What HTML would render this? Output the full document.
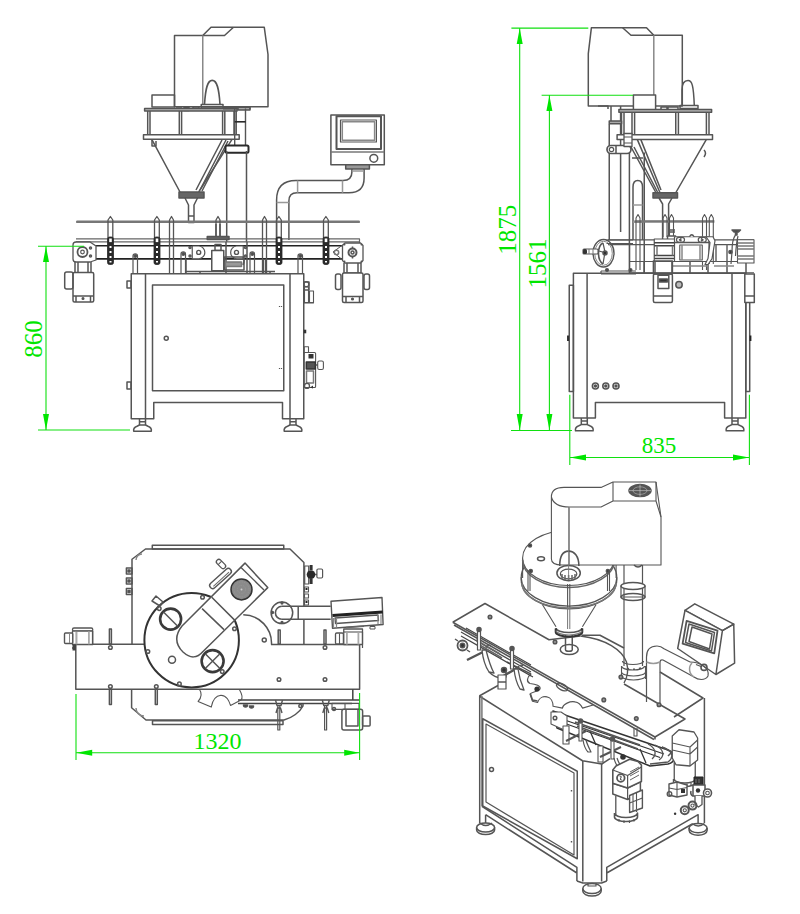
<!DOCTYPE html>
<html><head><meta charset="utf-8">
<style>
html,body{margin:0;padding:0;background:#fff;width:800px;height:914px;overflow:hidden}
svg{display:block}
.g{fill:#00e600;font-family:"Liberation Serif",serif}
</style></head>
<body>
<svg width="800" height="914" viewBox="0 0 800 914">
<rect width="800" height="914" fill="#fff"/>
<g fill="none" stroke="#555" stroke-width="1.5" stroke-linejoin="round">
<!-- ============ FRONT VIEW ============ -->
<g id="front">
<!-- motor box -->
<path d="M174.5,35.5 H202.75 L211,27.2 H264.25 L268,54.5 V106.7 H174.5 Z"/>
<path d="M202.75,35.5 H224.5 L233.5,27.2" />
<path d="M202.75,35.5 V104" stroke="#888"/>
<path d="M204.5,104.5 C205.5,88 207.5,80.4 212.2,80.4 C216.9,80.4 219,88 220,104.5" stroke-width="1.6"/>
<rect x="201.25" y="104.5" width="21.75" height="3.5"/>
<rect x="152" y="95" width="22.5" height="12"/>
<path d="M176,107 h6 M184,107.5 h5 v3 h-5z M193,107 h6 v3 h-6z M238,107 h12 v3 h-12z" />
<!-- hopper frame -->
<rect x="144.6" y="108.5" width="92.5" height="2.6" fill="#bbb"/>
<path d="M147.7,111 V134.7 M150,111 V134.7 M179.3,111 V134.7 M181.6,111 V134.7 M222.6,111 V134.7 M224.8,111 V134.7 M234,111 V134.7 M236.2,111 V134.7"/>
<rect x="143.5" y="134.7" width="95.7" height="4.6" fill="#fff"/>
<path d="M151.8,139.3 L180,192 M232,139.3 L198.7,192"/>
<path d="M222,140 L196,190 M226,140 L200,190 M228,141 L202,191" stroke="#555"/>
<path d="M152,140 v6 h4 v-5" />
<rect x="179" y="192" width="25" height="6" fill="#666"/>
<path d="M185,198 L188.5,205 V222.5 H194 V205 L197.5,198"/>
<path d="M188.5,216 H194"/>
<!-- column -->
<path d="M234.7,108.5 V145 M245.5,108.5 V145" stroke-width="1.4"/>
<path d="M234.7,121.8 h11" stroke="#2a2a2a" stroke-width="1.6"/>
<path d="M223,107.5 H250 V109 H223" stroke-width="1.2"/>
<rect x="225.5" y="145.5" width="23" height="7.2" rx="1.5" fill="#fff" stroke="#2a2a2a" stroke-width="2"/>
<path d="M226.7,151 V242 M246.5,151 V242"/>
<!-- touch panel -->
<rect x="330.9" y="114.9" width="53.4" height="49.9"/>
<rect x="336.5" y="116.2" width="44.5" height="32.8" stroke-width="2"/>
<rect x="340.5" y="120" width="35.9" height="22" stroke-width="1.2"/>
<rect x="342.3" y="121.8" width="32.3" height="18.4" stroke="#888"/>
<path d="M331,152 H384.3" stroke="#777"/>
<circle cx="373.8" cy="158.3" r="3.9" stroke-width="1.5"/>
<rect x="345.7" y="164.8" width="23.7" height="4.2" fill="#999"/>
<!-- pipe -->
<path d="M351.9,169 V172 Q351.9,180.5 343,180.5 H296 Q276.6,180.5 276.6,200 V240"/>
<path d="M364.1,169 V178 Q364.1,192.8 349,192.8 H297 Q288.9,192.8 288.9,201 V240"/>
<path d="M297.6,180.5 V192.8 M342.5,180.5 V192.8 M276.6,202.5 H288.9 M352,171 H364" stroke="#999"/>
<!-- top rail -->
<rect x="76" y="220.6" width="284" height="2.5" fill="#777" stroke="none" rx="1.2"/>
<!-- conveyor frame (drawn before pins) -->
<path d="M76,238.9 H359.5 V243 M76,241.85 H359.5" stroke="#666" stroke-width="1.2"/>
<path d="M93,245.8 H344 M93,258.9 H344" stroke-width="1.6" stroke="#222"/>
<!-- left end block -->
<path d="M76,242 H90 L96,246 V260 L90,262 H76 Q73,262 73,259 V245 Q73,242 76,242 Z" fill="#fff" stroke-width="1.3"/>
<circle cx="82.5" cy="252" r="5" stroke-width="1.8"/><circle cx="82.5" cy="252" r="1.8" stroke-width="1.2"/>
<circle cx="90.5" cy="248" r="1"/><circle cx="90.5" cy="256" r="1"/>
<!-- right end block -->
<path d="M344,244 L333,252 L344,261" stroke-width="1"/>
<circle cx="336.5" cy="252.5" r="2.2" stroke="#777"/>
<path d="M345,243 H360.5 L363,245.5 V260.5 L360.5,263 H345 L342.5,260.5 V245.5 Z" fill="#fff" stroke-width="1.3"/>
<circle cx="352.5" cy="252.5" r="4" stroke-width="2"/>
<circle cx="352.5" cy="252.5" r="1.5"/>
<path d="M352.5,246.5 v2 M352.5,256.5 v2" stroke-width="1.5"/>
<path d="M345,244 l-1,1 M361,244 l1,1 M345,262 l-1,-1 M361,262 l1,-1" stroke-width="2"/>
<!-- pins -->
<g id="pins" stroke-width="1.3">
<path d="M108,238 V220 L110.4,216.5 L112.8,220 V238 M154.5,238 V220 L156.9,216.5 L159.3,220 V238 M276.5,238 V220 L278.9,216.5 L281.3,220 V238 M323.5,238 V220 L325.9,216.5 L328.3,220 V238"/>
<path d="M169.5,273 V220 L171.5,216.5 L173.5,220 V273 M216,237 V220 L218,216.5 L220,220 V237 M262.5,273 V220 L264.5,216.5 L266.5,220 V273"/>
</g>
<!-- clamps -->
<g fill="#2a2a2a" stroke="#2a2a2a" stroke-width="0.8">
<rect x="107.5" y="237" width="6" height="27.5" rx="2"/>
<rect x="154" y="237" width="6" height="27.5" rx="2"/>
<rect x="276" y="237" width="6" height="27.5" rx="2"/>
<rect x="323" y="237" width="6" height="27.5" rx="2"/>
</g>
<g fill="#fff" stroke="none">
<rect x="109.2" y="238.5" width="2.6" height="3.6"/><rect x="109.5" y="246" width="2" height="2"/><rect x="109.5" y="251" width="2" height="2"/><rect x="109.5" y="256" width="2" height="2"/><rect x="109.5" y="261" width="2" height="1.5"/>
<rect x="155.7" y="238.5" width="2.6" height="3.6"/><rect x="156" y="246" width="2" height="2"/><rect x="156" y="251" width="2" height="2"/><rect x="156" y="256" width="2" height="2"/><rect x="156" y="261" width="2" height="1.5"/>
<rect x="277.7" y="238.5" width="2.6" height="3.6"/><rect x="278" y="246" width="2" height="2"/><rect x="278" y="251" width="2" height="2"/><rect x="278" y="256" width="2" height="2"/><rect x="278" y="261" width="2" height="1.5"/>
<rect x="324.7" y="238.5" width="2.6" height="3.6"/><rect x="325" y="246" width="2" height="2"/><rect x="325" y="251" width="2" height="2"/><rect x="325" y="256" width="2" height="2"/><rect x="325" y="261" width="2" height="1.5"/>
</g>
<!-- left motor -->
<path d="M75,262 V273 H91 V262 M78,262 V273 M88,262 V273" stroke="#555"/>
<rect x="73" y="272.5" width="20.7" height="29.5" rx="1.5" fill="#fff"/>
<rect x="64.7" y="272" width="8.3" height="17" rx="2"/>
<path d="M73,296 H93.7 M76,296 v6 M90.5,296 v6"/>
<circle cx="83" cy="298.5" r="0.8" fill="#333"/>
<!-- right motor -->
<path d="M344,263 V273 H361 V263 M347,263 V273 M358,263 V273" stroke="#555"/>
<rect x="342.5" y="273" width="20.5" height="29.5" rx="1.5" fill="#fff"/>
<rect x="335.5" y="274" width="5.5" height="15.5" rx="2"/>
<rect x="364" y="274" width="5.5" height="15.5" rx="2"/>
<path d="M342.5,296.5 H363 M346,296.5 v6 M359.5,296.5 v6"/>
<circle cx="352.5" cy="299" r="0.8" fill="#333"/>
<!-- posts between conveyor and chassis -->
<path d="M133,273 V256 a2.25,2.25 0 0 1 4.5,0 V273 M181,273 V254 a2.25,2.25 0 0 1 4.5,0 V273 M250,273 V254 a2.25,2.25 0 0 1 4.5,0 V273 M298,273 V256 a2.25,2.25 0 0 1 4.5,0 V273" stroke-width="1.2"/>
<circle cx="135.25" cy="256" r="1.2" fill="#333"/><circle cx="183.25" cy="254" r="1.2" fill="#333"/><circle cx="252.25" cy="254" r="1.2" fill="#333"/><circle cx="300.25" cy="256" r="1.2" fill="#333"/>
<path d="M186,259 V273 M247,259 V273 M226,242 V273 M247,242 V259" />
<!-- center mechanism -->
<rect x="207.25" y="236.5" width="21.75" height="3" fill="#666"/>
<path d="M216,224 V236.5 M220,224 V236.5" />
<path d="M192.25,246 H199 A6.4,6.4 0 0 1 199,258.75 H192.25 Z" fill="#fff" stroke-width="1.2"/>
<path d="M243.25,246 H236.5 A6.4,6.4 0 0 0 236.5,258.75 H243.25 Z" fill="#fff" stroke-width="1.2"/>
<circle cx="198.7" cy="252.4" r="2" stroke-width="1.4"/><circle cx="236.5" cy="252.4" r="2" stroke-width="1.4"/>
<circle cx="190" cy="247.5" r="1"/><circle cx="190" cy="256" r="1"/><circle cx="245.5" cy="247.5" r="1"/><circle cx="245.5" cy="256" r="1"/>
<rect x="215" y="244.5" width="6" height="6"/>
<rect x="211.75" y="250.5" width="12" height="20.25" fill="#fff"/>
<rect x="224.5" y="257" width="19.5" height="13"/>
<rect x="225.5" y="262" width="16" height="4.5" fill="#999" stroke="#777"/>
<path d="M243,257 q2,4 0,8" stroke="#555"/>
<path d="M185,271.5 H275 M200,271.5 v2.2 M270,271.5 v2.2" stroke="#555"/>
<path d="M263.5,259 V273 M265.75,259 V273" />
<!-- chassis -->
<path d="M131.25,273.75 H303.75 V418.75 H282.5 V402.5 H153.75 V418.75 H131.25 Z"/>
<path d="M145.5,273.75 V418.75 M290,273.75 V418.75"/>
<rect x="152.5" y="285" width="131.25" height="105.75"/>
<circle cx="166.25" cy="338.25" r="2"/>
<path d="M279.5,306 v1 M281.5,306 v1 M279.5,368 v1 M281.5,368 v1" stroke-width="1.2"/>
<path d="M127,281 h4 v7 h-4z M127,382 h4 v7 h-4z M304,282 h5 v8 h-5z"/>
<!-- feet -->
<path d="M139.5,418.75 V425.0 M145.5,418.75 V425.0 M139.5,421.75 h6" /><path d="M133.7,431.2 Q133.0,427.7 137.0,426.2 L139.5,425.0 H145.5 L148.0,426.2 Q152.0,427.7 151.3,431.2 Z" fill="#fff"/>
<path d="M290,418.75 V425.0 M296,418.75 V425.0 M290,421.75 h6" /><path d="M284.2,431.2 Q283.5,427.7 287.5,426.2 L290,425.0 H296 L298.5,426.2 Q302.5,427.7 301.8,431.2 Z" fill="#fff"/>
<!-- right accessories (air regulator) -->
<circle cx="306.3" cy="284.2" r="2.5" stroke-width="1.3"/>
<path d="M304.5,287 h4 v15.7 h-4z M309.5,291 h4 v11.7 h-4z" stroke-width="1.1"/>
<path d="M303.75,302.7 h10" stroke-width="1.3"/>
<rect x="303.75" y="329.7" width="2.5" height="3.6" fill="#333" stroke="none"/>
<rect x="304.2" y="346.8" width="4.3" height="5.7" stroke-width="1.1"/>
<rect x="304.2" y="352.5" width="11.4" height="35" rx="1" stroke-width="1.1"/>
<rect x="308.5" y="354" width="5" height="4.5" fill="#333" stroke="none"/>
<path d="M306.3,362 h9 v7 h-9z" fill="#555" stroke="#333"/>
<rect x="317.7" y="361" width="5.7" height="8.5" rx="1.5" stroke-width="1.1"/>
<path d="M315.6,365 h2.1" />
<path d="M306.5,371 h7 v12 h-7z" stroke="#777"/>
<circle cx="307" cy="385.9" r="2.5" stroke-width="1.3"/>
<path d="M310,387.5 l3,-2 v3z" fill="#333" stroke="none"/>
</g>
<!-- ============ SIDE VIEW ============ -->
<g id="side">
<!-- motor box -->
<path d="M591.4,27.7 H646.5 L653.8,35.3 H682.3 V106 H588.3 V53.6 Z"/>
<path d="M622.6,27.7 L631,35.3 H653.8"/>
<path d="M653.8,35.3 V95" stroke="#888"/>
<path d="M682,105 V90 C682,83 684,80.6 688,80.6 C692,80.6 693.5,85 694.3,105.6" stroke-width="1.5"/>
<path d="M680,105.6 h18 v3 h-18z"/>
<rect x="633.4" y="95" width="22.2" height="14.7" fill="#fff"/>
<path d="M598,106 h10 v3 M661,107 h6 v3 h-6z M668,107 h10 v3 h-10z"/>
<!-- column -->
<path d="M611,106 V121 M620.6,106 V121"/>
<rect x="609.25" y="121" width="12.3" height="2.8" fill="#aaa"/>
<path d="M609.25,124 V240 M620.6,124 V232"/>
<path d="M629.4,152.5 V273 M644.25,152.5 V273 M632,158 h11"/>
<path d="M633,240 V187 Q633,180.5 637.75,180.5 Q642.5,180.5 642.5,187 V240" stroke="#555"/>
<path d="M633,205 h9.5 M633,222 h9.5" stroke="#999"/>
<rect x="607" y="145.5" width="24" height="8" rx="4" fill="#fff" stroke-width="1.7"/>
<circle cx="611.5" cy="149.5" r="2.2" stroke-width="1.2"/>
<path d="M616,146 V153" stroke="#555"/>

<!-- hopper -->
<rect x="618.9" y="109.6" width="92.7" height="2.65" fill="#bbb"/>
<path d="M621.5,112 V134.6 M624,112 V134.6 M632,112 V134.6 M634.6,112 V134.6 M675.75,112 V134.6 M678.4,112 V134.6 M706.4,112 V134.6 M709,112 V134.6"/>
<rect x="617.1" y="134.65" width="95.4" height="4.75" fill="#fff"/>
<rect x="624" y="133.5" width="8" height="13" fill="#fff" stroke-width="1.3"/>
<path d="M624,137 h8 M624,143 h8" stroke-width="1"/>
<path d="M637.25,139.4 L660,192.75 M706.4,139.4 L675.75,192.75"/>
<path d="M631,147 L655.6,192 M634,147 L657.5,192 M640.75,139.4 L661,190" stroke="#555"/>
<path d="M704,150 q3,3 0,7" />
<rect x="653" y="192.75" width="24.5" height="5.25" fill="#666"/>
<path d="M659,198 L662.6,204 V240 M672,198 L668.6,204 V240"/>
<!-- rail + posts -->
<rect x="634.4" y="220.2" width="80" height="2.5" fill="#777" stroke="none"/>
<path d="M636,270 V218 L638,214.5 L640,218 V270 M663,237 V218 L665,214.5 L667,218 V237 M669.5,237 V218 L671.5,214.5 L673.5,218 V237 M702.5,270 V218 L704.5,214.5 L706.5,218 V270 M709.3,264 V218 L711.3,214.5 L713.3,218 V264" stroke-width="1.1"/>
<path d="M668,230 h7 M668,232 h7" stroke-width="1.3"/>
<path d="M667.5,236 h8 v4 h-8z" fill="#fff"/>
<!-- belt -->
<path d="M608,239.9 H754 M608,244.6 H754" stroke-width="1.2"/>
<path d="M629.6,261.5 H754 M629.6,272.75 H754 M629.6,244.6 V273 M644,261.5 V273" stroke-width="1.1"/>
<path d="M655,261.5 V273 M672,261.5 V273 M690,261.5 V273 M708,261.5 V273 M727,261.5 V273 M746,261.5 V273" stroke="#555"/>
<path d="M672,266 h36 M714,266 h20" stroke="#888"/>
<rect x="654.25" y="239" width="21" height="22.5" fill="#fff" stroke-width="1.2"/>
<path d="M654.25,242.7 h21 M654.25,245.7 h21 M654.25,255.5 h21 M654.25,258.5 h21" stroke="#444"/>
<path d="M657,245.7 v9.8 M672.5,245.7 v9.8" stroke="#777"/>
<rect x="674.5" y="236.75" width="34.5" height="24.75" fill="#fff" stroke-width="1.2"/>
<path d="M674.5,242.5 H709" />
<rect x="679.75" y="245" width="22.5" height="15" stroke-width="1.1"/>
<path d="M682,245 v15 M700,245 v15" stroke="#888"/>
<rect x="676.5" y="237.3" width="8" height="5" rx="2.5" stroke-width="1.2"/>
<rect x="698.25" y="237.3" width="8" height="5" rx="2.5" stroke-width="1.2"/>
<path d="M681.5,238.5 l-2,1.3 l2,1.3 M701,238.5 l2,1.3 l-2,1.3" />
<path d="M689.5,236.75 q2.25,-4 4.5,0" fill="#fff"/>
<path d="M706,236.75 h7 l2,4 l-3,18 l-4,5.75 h-3 l3,-6 l2,-16 z" fill="#fff" stroke-width="1.2"/>
<rect x="737.5" y="239.75" width="16.5" height="23.25" fill="#fff" stroke-width="1.1"/>
<path d="M737.5,243 h16.5 M737.5,246 h16.5 M737.5,249 h16.5 M737.5,256 h16.5 M737.5,259 h16.5" stroke="#777"/>
<path d="M732,230 h8.5 l-2,2 h-1.5 v3 h-1.5 v-3 h-1.5 z" fill="#444"/>
<path d="M735.5,235 C733,238 732,246 732,252 L731,264 M738,236 C737,240 736,248 735.5,256" stroke-width="1.2"/>
<path d="M716,244.6 v16.9 M727,244.6 v16.9" stroke="#666"/>
<circle cx="730.5" cy="252" r="1.6" fill="#333"/>
<!-- handwheel -->
<ellipse cx="603.5" cy="253.25" rx="10.5" ry="13.75" stroke-width="1.4"/>
<ellipse cx="603.5" cy="253.25" rx="8.8" ry="12" stroke="#888" stroke-width="1"/>
<path d="M603,243 C597,246 597,260 603,264" stroke-width="1.6"/>
<path d="M603,243 L605,252 L603,264 M599,251 L606,253" stroke-width="1.2"/>
<circle cx="605" cy="253" r="2" fill="#333"/>
<rect x="583" y="249" width="15" height="5" rx="1" fill="#fff" stroke-width="1.1"/>
<rect x="583" y="249" width="4" height="5" rx="1.5" fill="#333" stroke="none"/>
<path d="M589,249 v5 M593,249 v5" stroke="#777" stroke-width="1"/>
<path d="M601,271 H636 M601,274 H636 M601,271 V274" stroke-width="1.2"/>
<circle cx="607" cy="270" r="1.3" fill="#333"/><circle cx="630.5" cy="270" r="1.3" fill="#333"/>
<path d="M606.5,240 H633 M606.5,243.5 H633" stroke-width="1.1"/>
<!-- front motor -->
<rect x="653.4" y="261" width="19" height="13"/>
<rect x="653.4" y="274" width="19" height="28.6" rx="1.5"/>
<rect x="658" y="275.3" width="10.8" height="13.1"/>
<rect x="659.5" y="279" width="7.8" height="3" fill="#333"/>
<path d="M653.4,296 H672.4"/>
<circle cx="679" cy="284.8" r="3.2" fill="#bbb"/>
<!-- chassis -->
<path d="M573.4,273.2 H745.8 V418.1 H724.6 V402.5 H595.4 V418.1 H573.4 Z"/>
<path d="M587.1,273.2 V418.1 M732,273.2 V418.1"/>
<rect x="569.25" y="285.3" width="4.15" height="106.2"/>
<rect x="745.8" y="285.3" width="3.9" height="106.2"/>
<path d="M568,335.5 v5.5 M750.5,335.5 v5.5" stroke-width="1.8" stroke="#222"/>
<rect x="744.8" y="274" width="9.5" height="28.6" fill="#fff"/>
<path d="M744.8,296 h9.5"/>
<circle cx="595.4" cy="386" r="3" stroke-width="1.6"/><circle cx="595.4" cy="386" r="1" fill="#333"/>
<circle cx="605.8" cy="386" r="3" stroke-width="1.6"/><circle cx="605.8" cy="386" r="1" fill="#333"/>
<circle cx="616" cy="386" r="3" stroke-width="1.6"/><circle cx="616" cy="386" r="1" fill="#333"/>
<path d="M581.3,418.1 V424.6 M587.3,418.1 V424.6 M581.3,421.1 h6" /><path d="M575.5,430.8 Q574.8,427.3 578.8,425.8 L581.3,424.6 H587.3 L589.8,425.8 Q593.8,427.3 593.0999999999999,430.8 Z" fill="#fff"/>
<path d="M732,418.1 V424.6 M738,418.1 V424.6 M732,421.1 h6" /><path d="M726.2,430.8 Q725.5,427.3 729.5,425.8 L732,424.6 H738 L740.5,425.8 Q744.5,427.3 743.8,430.8 Z" fill="#fff"/>
</g>
<!-- ============ TOP VIEW ============ -->
<g id="top">
<!-- body -->
<rect x="152.3" y="545.3" width="131.45" height="3.7"/>
<path d="M132,644.3 V559.25 L145.5,549 H290 L303.9,562.5 V606.3 M303.9,619.3 V644.5"/>
<path d="M131.6,689.3 V707.8 L146,720 H284 C292,718 300,712 303,706 V703.4"/>
<rect x="152.5" y="720.75" width="130.5" height="3.75"/>
<path d="M136,560 a6,6 0 0 1 6,-6" stroke="#888"/>
<path d="M126.4,568 h5.6 v6 h-5.6z M126.4,578 h5.6 v6 h-5.6z M126.4,588.5 h5.6 v6 h-5.6z"/>
<path d="M128,570 h2 v2 h-2z M128,580 h2 v2 h-2z M128,590.5 h2 v2 h-2z" fill="#444"/>
<path d="M136,708 a8,8 0 0 0 8,8" stroke="#888"/>
<!-- conveyor -->
<path d="M75.8,644.3 H144.6 M75.8,644.3 V689.3 H359.6 V644.5 H271 M75.8,648 H72"/>
<path d="M238,700 H359.4 M238,703.4 H352 M352.8,689.3 V700" stroke="#444"/>
<path d="M243.5,705 a2,2 0 0 0 4,0z M249.5,706 a2,2 0 0 0 4,0z" fill="#333"/><circle cx="300.3" cy="706" r="1.5"/><circle cx="334" cy="709" r="1.5"/>
<!-- left motor -->
<rect x="72.5" y="628" width="20.25" height="3.2" rx="1.5" fill="#fff" stroke-width="1.3"/>
<rect x="72.5" y="631" width="20.25" height="13.5" fill="#fff" stroke-width="1.3"/>
<path d="M76.5,631 V644.5 M92.5,631 V644.5" stroke-width="1.2"/>
<rect x="75.5" y="631.5" width="1.8" height="12.8" fill="#aaa" stroke="none"/>
<rect x="88" y="631.5" width="1.8" height="12.8" fill="#aaa" stroke="none"/>
<rect x="64.5" y="633" width="8.25" height="10.5" rx="1" fill="#fff" stroke-width="1.4"/>
<path d="M69.5,633.5 V643" stroke="#888" stroke-width="1"/>
<rect x="72.5" y="644.5" width="3.5" height="6" fill="#444" stroke="none"/>
<!-- pins top -->
<path d="M109.4,629 h2 v15 h-2z M278.2,630 h2 v14 h-2z M324,630 h2 v14 h-2z"/>
<circle cx="110.4" cy="647.5" r="1.8"/><circle cx="325" cy="647.5" r="1.8"/>
<circle cx="279" cy="679.5" r="1.8"/><circle cx="325" cy="679.5" r="1.8"/>
<path d="M109.4,689.5 v15 h2 v-15 M155.3,689.5 v15 h2 v-15"/>
<circle cx="110.4" cy="686.5" r="1.8"/><circle cx="156.3" cy="686.5" r="1.8"/>
<!-- right clamps -->
<path d="M277.8,706 v24 h2 v-24 M324.6,706 v24 h2 v-24" stroke-width="1.2"/>
<path d="M275.5,700 l1.5,5.5 h4 l1.5,-5.5 M276,713 l1.5,-5 h3 l1.5,5 M322.3,700 l1.5,5.5 h4 l1.5,-5.5 M322.8,713 l1.5,-5 h3 l1.5,5" stroke-width="1.4"/>

<!-- gear sector -->
<path d="M199.4,689.2 C202,693 202,697 198.1,701.4 L211.25,707.1 C212,703 214,696 220.9,695.3 C227,695.5 229,701 230.5,705.4 L241,700.1 C243,698 242,694 239.25,689.2" stroke-width="1.1"/>
<!-- big circle -->
<circle cx="191.65" cy="640.15" r="47.25" stroke-width="2" stroke="#333"/>
<circle cx="170.6" cy="619.1" r="10.5" stroke-width="2.6" stroke="#3a3a3a"/>
<path d="M163.5,612 L177.7,626.2"/>
<circle cx="212.6" cy="661.1" r="11" stroke-width="2.6" stroke="#3a3a3a"/>
<path d="M205.5,654 L219.7,668.2 M219.7,654 L205.5,668.2"/>
<circle cx="172" cy="659.7" r="3.5"/>
<circle cx="202.5" cy="597.25" r="1.8"/><circle cx="234.5" cy="628.75" r="1.8"/><circle cx="222.25" cy="671.6" r="1.8"/><circle cx="179.4" cy="683.9" r="1.8"/><circle cx="147.9" cy="651.5" r="1.8"/><circle cx="159.25" cy="608.6" r="1.8"/>
<path d="M152,601 l4,-5 l7,6 l-3,4z" />
<!-- arm -->
<path d="M245,563.1 L182,626 Q171,640 183,652 Q194,662 203,651.5 L267.75,587.6 Z" fill="#fff"/>
<path d="M202.1,608.6 L224,629.6 M211.75,597.25 L235.4,620.9"/>

<circle cx="241.5" cy="589.4" r="10.5" fill="#8a8a8a" stroke="#333"/>
<circle cx="241.5" cy="589.4" r="7.5" fill="none" stroke="#999" stroke-width="0.7" stroke-dasharray="1.5 1"/>
<circle cx="241.5" cy="589.4" r="4" fill="none" stroke="#999" stroke-width="0.7" stroke-dasharray="1.5 1"/>
<circle cx="241.5" cy="589.4" r="1" fill="#ccc" stroke="none"/>
<g transform="rotate(-42 220.5 578.5)"><rect x="207" y="575.5" width="27" height="6" rx="3" fill="#fff" stroke-width="1.4"/><path d="M210,579.5 H231" stroke="#666" stroke-width="1"/></g>
<g transform="rotate(45 221 564)"><rect x="215.5" y="561.5" width="11" height="5" rx="2.5" fill="#fff" stroke-width="1.3"/><path d="M219.5,561.5 v5" stroke-width="1"/></g>
<path d="M241,567.5 L264,590" stroke-width="1.3"/>
<!-- sector arc -->
<path d="M243.25,614.75 A28.5,28.5 0 0 1 271.5,644.5"/>
<circle cx="264.25" cy="640.1" r="2"/>
<!-- right regulator -->
<rect x="304.7" y="566" width="4" height="18" stroke-width="1.2"/>
<circle cx="311" cy="574.6" r="4.3" fill="#2a2a2a" stroke="none"/>
<rect x="309.6" y="565" width="3" height="5" fill="#333" stroke="none"/>
<rect x="309.6" y="579" width="3" height="5" fill="#333" stroke="none"/>
<rect x="316.9" y="569" width="5.7" height="9" rx="1.2" stroke-width="1.2"/>
<path d="M315,574.6 h2" stroke-width="1.5"/>
<path d="M304.5,587 h4 v5 h-4z M304.5,594 h4 v4 h-4z M304.5,600 h4 v5 h-4z" stroke-width="1.1"/>
<path d="M305.5,589 h2 M305.5,602 h2" stroke="#222" stroke-width="2"/>
<!-- pipe + panel -->
<circle cx="281.9" cy="612.8" r="10.8"/>
<path d="M281.9,606.3 a6.5,6.5 0 0 0 0,13" stroke-width="1.6"/>
<circle cx="282" cy="603" r="0.9" fill="#333"/><circle cx="282" cy="622.5" r="0.9" fill="#333"/><circle cx="272.5" cy="612.5" r="0.9" fill="#333"/>
<path d="M282,606.3 H330.7 M282,619.3 H330.7 M298.2,606.3 V619.3" />
<path d="M331,601.25 L382,597.5 L383.1,624.5 L332.5,628.25 Z" fill="#fff" stroke-width="1.4"/>
<path d="M332.5,615.5 L382.75,612" stroke="#222" stroke-width="3.2"/>
<path d="M335,618 L378,615 L378.5,620.5 L335.5,623.5 Z" stroke-width="1.3"/>
<path d="M333.5,618 v9.5 M336.5,618 v9.5 M378,615 v9 M381,614.5 v9.5" stroke="#888" stroke-width="1.2"/>
<path d="M346,627.5 l18,-1.3" stroke="#666" stroke-width="1.5"/>
<path d="M370,626.5 h5 v2.5 h-5z" stroke-width="1"/>
<!-- right conveyor motor -->
<rect x="343.75" y="629" width="18.75" height="15.5" fill="#fff" stroke-width="1.3"/>
<path d="M343.75,632 h18.75" stroke-width="1.1"/>
<rect x="346" y="632.5" width="1.8" height="12" fill="#aaa" stroke="none"/>
<rect x="357.5" y="632.5" width="1.8" height="12" fill="#aaa" stroke="none"/>
<rect x="335.5" y="633" width="7.9" height="11" rx="1.2" fill="#fff" stroke-width="1.3"/>
<path d="M339.5,633.5 V644" stroke-width="1.1"/>
<path d="M362.5,632 V648" stroke-width="1.2"/>
<rect x="341.9" y="709.3" width="20.7" height="20.7" rx="2"/>
<path d="M346,709 V726 H358 V709" stroke="#555"/>
<rect x="362.6" y="716" width="7.5" height="10" rx="1"/>
<path d="M332,703.4 h27 v6 h-27z M345,703.4 v6" stroke-width="1.1"/>
</g>
<!-- ============ ISO VIEW ============ -->
<g id="iso">
<!-- chassis -->
<path d="M479.25,696 L498,685.5 M479.25,696 L582.5,760.75 L601.75,764 L610,758.6 M674,717 L703,698 L660,672" />
<path d="M479.7,696 V823 M582.8,761 V881.5 M601.6,764 V881.5 M704.4,698 V823"/>
<path d="M481.9,806.25 L576.9,867.3 V881 M485.6,814.7 V826 M485.6,814.7 L576.9,873 M606.75,881 V867.3 L698.1,814.7 V826 M606.75,873 L692.2,824" />
<path d="M576.9,881 L582.8,883 H601.6 L606.75,881" />
<path d="M481.9,696 V806.25" stroke="#777"/>
<path d="M482.75,718.75 L577.25,771.25 V858.75 L482.75,806 Z"/>
<path d="M486,724 L574,773 V855 L486,802 Z" stroke-width="1.2"/>
<circle cx="491.5" cy="769.5" r="2" stroke-width="1.5"/>
<path d="M571.5,790 v1.5 M571.5,841 v1.5" stroke-width="1.4"/>
<ellipse cx="485.6" cy="827.5" rx="9" ry="4.6" fill="#fff"/>
<path d="M476.6,827.5 v2.5 a9,4.6 0 0 0 18,0 v-2.5" />
<path d="M479.7,823 q6,5 12.2,0" />
<ellipse cx="592" cy="888.5" rx="9.2" ry="5" fill="#fff"/>
<path d="M582.8,888.5 v2.5 a9.2,5 0 0 0 18.4,0 v-2.5" />
<path d="M588,883 v3 h8 v-3" stroke-width="1.2"/>
<ellipse cx="698.1" cy="828.1" rx="9" ry="4.6" fill="#fff"/>
<path d="M689.1,828.1 v2.5 a9,4.6 0 0 0 18,0 v-2.5" />
<path d="M692.2,823.5 q6,5 12.2,0" />
<!-- column -->
<path d="M624,564 V666 M642.5,564 V666 M621,586 h24 v11 h-24z" stroke-width="1.2"/>
<ellipse cx="633" cy="586" rx="12" ry="3.5" fill="#fff"/>
<ellipse cx="633" cy="597" rx="12" ry="3.5"/>
<path d="M621.5,666 a11.5,4 0 0 0 23,0 M622.5,661 a10.5,3.5 0 0 0 21,0" stroke-width="1.2"/>
<path d="M621.5,666 V679 M645.5,666 V679 M621.5,672 a12,4 0 0 0 24,0 M621.5,676 a12,4 0 0 0 24,0" stroke-width="1.1"/>
<path d="M627,668.5 l2,0.6 M633,669.3 h2 M639,668.6 l2,-0.6" stroke-width="1.6"/>
<!-- pipe -->
<path d="M646.5,702 V657 Q646.5,646 657,646 Q661,646 664,648.7 L690,662" stroke-width="1.2"/>
<path d="M660,705 V663 Q660,659 663,660 L694,677" stroke-width="1.2"/>
<path d="M646.5,662 q6.75,3 13.5,0" stroke="#999"/>
<path d="M690,662 C700,662 710,668 708,676 C705,681 698,680 694,677" stroke-width="1.2"/>
<path d="M692,663 C688,667 689,674 694,677" stroke="#999"/>
<!-- touch panel -->
<path d="M685,610.3 L694.75,603.8 L733.75,624.1 L722.4,630.6 Z" fill="#fff"/>
<path d="M685,610.3 L722.4,630.6 L715.9,674.5 L677.7,648.5 Z" fill="#fff"/>
<path d="M722.4,630.6 L733.75,624.1 L734.6,663.1 L715.9,674.5"/>
<path d="M686.6,620.9 L717.5,630.6 L714.25,653.4 L682.6,643.6 Z" stroke-width="1.8"/>
<path d="M689,624 L714.5,632.5 L711.5,651 L685.5,642.5 Z"/>
<path d="M692,627 L712,634 L709.5,649 L689,641.5 Z"/>
<circle cx="704" cy="667.4" r="3" stroke-width="1.6"/>
<path d="M696,664.5 l5,2" stroke-width="1.3"/>
<!-- conveyor plate -->
<path d="M452.75,622.25 L485,603.5 L549,639.75 L580.5,636 M452.75,622.25 L655,737 L685,719 L624,684" fill="none"/>
<path d="M454,625 L654,739.5 M655,737 V739.5" />
<path d="M580.5,636 C606,639 622,650 626.5,662 C629,671 627,678 624,683" stroke-width="1.4"/>
<path d="M582,635.25 H600 L624,648" />
<circle cx="490" cy="617" r="1.8" fill="#999"/><circle cx="555" cy="642" r="1.8" fill="#999"/><circle cx="620.9" cy="677.1" r="1.8" fill="#999"/>
<circle cx="603.8" cy="699.9" r="1.8" fill="#999"/><circle cx="636.3" cy="718.6" r="1.8" fill="#999"/><circle cx="659" cy="704.75" r="1.8" fill="#999"/>
<!-- nozzle through table -->
<ellipse cx="569.25" cy="649.5" rx="9" ry="5"/>
<path d="M565.5,635 V650 M572.25,635 V650 M565.5,650 a3.4,1.5 0 0 0 6.75,0"/>
<!-- gear edge on table -->
<path d="M531.25,673.75 C527,677 526,682 530,683.5 C536,684 541,686 540,689 C538,692 531,692 530,694 L532.5,701.25 L537.5,702.5 C539,698 543,696 547,696.9 C551,697.5 553,702 553.1,706.25 L562.5,708.1 C563,704 570,701 575,701.9 C579,702.5 581,705 582.5,708.1 L593.1,705" stroke-width="1.2"/>
<circle cx="537" cy="689" r="2.6" fill="#333" stroke="none"/>
<path d="M530.5,694 l2,6 l5,1" stroke-width="1.5"/>
<path d="M507,662 L531,674" stroke="#555"/>
<ellipse cx="562" cy="687" rx="6" ry="3" transform="rotate(28 562 687)"/>
<!-- left conveyor group (under plate) -->
<path d="M461,632 L531,672 M461,636 L531,676 M470,641 L533,677 M466,628 L531,665" stroke="#444" stroke-width="1.1"/>
<path d="M476,640 L500,654 M478,644 L502,658" stroke="#666"/>
<circle cx="462.5" cy="645.5" r="5" stroke-width="1.8" fill="#fff"/>
<circle cx="462.5" cy="645.5" r="2.2" fill="#333"/>
<path d="M458,641 l-3,-2 M467,650 l3,2" stroke-width="1.5"/>
<path d="M477.5,630 h3 v20 h-3z M510.5,649 h3 v20 h-3z" fill="#fff" stroke-width="1.2"/>
<circle cx="479" cy="629.5" r="2" fill="#555"/><circle cx="512" cy="648.5" r="2" fill="#555"/>
<path d="M467,660 L487,650 M500,678 L519,667" stroke-width="2.4"/>
<path d="M482,650 C483,660 485,666 489,672 L494,673 C490,666 488,658 486,650 Z" stroke-width="1.3" fill="#fff"/>
<path d="M514,669 C515,678 517,684 520,689 L524,690 C521,683 519,676 518,669 Z" stroke-width="1.3" fill="#fff"/>
<path d="M489,672 C494,677 500,679 506,677 L506,672" stroke-width="1.4"/>
<path d="M498,675 h8 v14 h-8z" fill="#fff" stroke-width="1.2"/>
<path d="M498,682 h8" />
<circle cx="504" cy="670" r="2.5" fill="#333"/>
<path d="M486,648 a3,3 0 0 1 5,-2 M518,668 a3,3 0 0 1 5,-2" stroke-width="1.2"/>
<!-- right conveyor group (belt) -->
<path d="M553,711 L668,750 C676,753 676,762 668,764 L650,766 L557,728 Z" fill="#fff" stroke="#333" stroke-width="1.5"/>
<path d="M553,716 L664,754 M561,722 L660,757.5" stroke="#333" stroke-width="1.2"/>
<path d="M590,731 L596,745 M640,749 L646,763" stroke="#333" stroke-width="1.3"/>
<path d="M575,722 L640,745 M577,726 L638,749" stroke="#555"/>
<path d="M662,747 C672,750 675,757 668,762 L650,764 M655,745 C664,749 665,756 659,760 M648,744 C656,748 657,755 652,759" stroke-width="1.3"/>
<path d="M662,747 L672,752 M668,756 L672,752" />
<path d="M551,712 h10 l6,4 v14 l-5,-1 l-11,-5 z" fill="#fff" stroke-width="1.1"/>
<circle cx="555" cy="718" r="1.8"/>
<path d="M563,726 h6 v18 h-6z M598,746 h5 v16 h-5z" fill="#fff" stroke-width="1.1"/>
<path d="M566,741 L586,731 M600,757 L621,747" stroke-width="2"/>
<path d="M579,721 h3 v20 h-3z M611,739 h3 v20 h-3z" fill="#fff" stroke-width="1.1"/>
<circle cx="580.5" cy="721" r="2" fill="#555"/><circle cx="612.5" cy="739" r="2" fill="#555"/>
<path d="M583,740 C584,746 586,750 588,752 L591,752 C589,748 587,744 586,740 M614,758 C615,763 617,766 619,768 L622,768 C620,765 618,761 617,758" stroke-width="1.2"/>
<path d="M634,728 v8 h3 v-8" stroke-width="1.1"/>
<!-- front motor -->
<path d="M615.8,796 V815 M636.5,796 V812" stroke-width="1.3"/>
<path d="M614.5,813 V817 a11.5,4.5 0 0 0 23,0 V813 a11.5,4.5 0 0 1 -23,0" fill="#fff" stroke-width="1.6"/>
<path d="M619,819 v2.5 M624,820.5 v2.5 M629.5,820.5 v2.5 M634,819 v2.5" stroke-width="1.2"/>
<path d="M612.8,783.3 V794 L627.6,799.5 L640.4,792 V781.5 L627.6,788 Z" fill="#fff" stroke-width="1.5"/>
<path d="M627.6,788 V799.5" stroke-width="1.2"/>
<path d="M612.8,770 L616,766 L629.6,759.2 L638,761.5 L641.4,765 V781.5 L627.6,788 L612.8,783.3 Z" fill="#fff" stroke-width="1.6"/>
<path d="M612.8,770 L627.6,775.5 L641.4,767 M627.6,775.5 V788" stroke-width="1.2"/>
<path d="M630,772 L639,767 M630,776 L639,771 M630,780 L639,775" stroke="#666" stroke-width="1"/>
<circle cx="620.8" cy="778" r="3.8" stroke-width="1.8"/>
<path d="M619.5,776 q2.5,0 1.3,2 q-1.2,2 1.3,2" stroke-width="1.1"/>
<circle cx="623" cy="757" r="2.8" fill="#333" stroke="none"/>
<path d="M629.6,795.5 L642.4,790 V808 L629.6,812.5 Z" fill="#fff" stroke-width="1.4"/>
<path d="M633,794 V811 M636.5,792.5 V809.5 M629.6,803 L642.4,798" stroke-width="1.1"/>
<!-- right motor -->
<path d="M672.25,736 L679,729.75 L694,732 L697.6,738 V760 L690,766 L676,764.75 L672.25,758 Z" fill="#fff" stroke-width="1.3"/>
<path d="M672.25,743 L690,747 L697.6,740 M690,747 V766 M672.25,750 L690,754 L697.6,747" stroke-width="1.1"/>
<path d="M674.25,762 V779 M695.25,762 V779" stroke-width="1.3"/>
<path d="M674.25,779 a10.5,4 0 0 0 21,0 M673.5,782 a11,4.5 0 0 0 22.5,0 M673.5,779 v3 M696,779 v3" stroke-width="1.4"/>
<path d="M678,782 v3.5 M682,783.5 v3.5 M687,783.5 v3.5 M691,782.5 v3.5" stroke-width="1.2"/>
<!-- valve & regulator -->
<path d="M669,784 l8,-2 l10,3 v10 l-10,2 l-8,-2 z" fill="#fff" stroke-width="1.4"/>
<path d="M677,782 v15 M669,788 l8,1.5 l10,-2" stroke-width="1.1"/>
<circle cx="669.5" cy="794" r="2.3" stroke-width="1.3"/>
<path d="M681,789 h4 v4 h-4z" fill="#333" stroke="none"/>
<path d="M694,777 h9 v8 h-9z" fill="#333" stroke="#222" stroke-width="1"/>
<path d="M696,779 v4 M699,779 v4" stroke="#888" stroke-width="0.8"/>
<path d="M693,785 h12 v11 h-12z" fill="#fff" stroke-width="1.5"/>
<circle cx="698" cy="790.5" r="2.2" fill="#333" stroke="none"/>
<circle cx="707.5" cy="793" r="4" fill="#fff" stroke-width="1.6"/>
<circle cx="707.5" cy="793" r="1.8" stroke-width="1.1"/>
<path d="M691,791 a2.5,3.5 0 0 0 2,5" stroke-width="1.6"/>
<path d="M695,796 v8.5 l3.5,2.5 l3.5,-2.5 v-8.5" fill="#fff" stroke-width="1.3"/>
<circle cx="684.75" cy="810.3" r="4" stroke-width="2"/><circle cx="684.75" cy="810.3" r="1.6" stroke-width="1.1"/>
<circle cx="692.5" cy="805.6" r="4" stroke-width="2"/><circle cx="692.5" cy="805.6" r="1.6" stroke-width="1.1"/>
<circle cx="675.1" cy="813.8" r="1.2" fill="#333" stroke="none"/>
<!-- hopper -->
<path d="M542.5,604.75 L556,626.75 M596,604.75 L582.4,626.75" stroke-width="1.1"/>
<path d="M556,628 a13,4.5 0 0 0 26,0" stroke-width="1.6"/>
<path d="M555.8,628.5 V632 a13.2,4.5 0 0 0 26.4,0 V628.5" stroke-width="2.2" stroke="#333"/>
<path d="M556,630.5 a13,4.5 0 0 0 26,0" stroke="#777" stroke-width="1.2"/>
<ellipse cx="569" cy="577.25" rx="47.8" ry="28.8" stroke-width="1.2"/>
<path d="M521.2,577.25 V580 a47.8,28.8 0 0 0 95.6,0 V577.25" stroke-width="1.2"/>
<path d="M522,583 a47,25 0 0 0 94,0" stroke="#777"/>
<path d="M522.6,558 V578 M616.1,558 V578" stroke-width="1.1"/>
<ellipse cx="568.6" cy="558" rx="46" ry="27.5" fill="#fff" stroke-width="1.1"/>
<path d="M522.6,560 a46,27.5 0 0 0 92,0" stroke="#666"/>
<path d="M528,570 V591 M530,570 V591 M567.6,584 V607.5 M569.8,584 V607.5 M607.5,570 V591 M609.5,570 V591" stroke-width="1.1"/>
<path d="M567.6,607.5 V629 M569.8,607.5 V629" stroke="#777" stroke-width="1"/>
<circle cx="530" cy="545.6" r="1.5" fill="#333"/><circle cx="530.8" cy="571" r="1.5" fill="#333"/><circle cx="607.8" cy="571" r="1.5" fill="#333"/>
<ellipse cx="541" cy="558.7" rx="3.5" ry="2"/>
<!-- motor box -->
<path d="M551.4,559 V497 Q551.4,487.4 564,487.4 H601 L613,482 H656 L661,517 V565 H562 Q551.4,565 551.4,559 Z" fill="#fff" stroke-width="1.1"/>
<path d="M551.4,497 Q554,507 569.4,507 H601 L613,501 H656 L661,517 M613,482 V501 M656,482 V501" stroke-width="1.1"/>
<path d="M569.4,507 V565" stroke="#888" stroke-width="1"/>
<ellipse cx="640" cy="490.6" rx="11" ry="6" fill="#555"/>
<ellipse cx="640" cy="490.6" rx="7" ry="3.8" fill="none" stroke="#aaa" stroke-width="0.7"/>
<path d="M629,490.6 h22 M640,484.6 v12" stroke="#ccc" stroke-width="0.6"/>
<path d="M634,565 q4,4 8,0" />
<!-- nozzle cup -->
<ellipse cx="568.6" cy="573.1" rx="11.7" ry="7.6" fill="#fff" stroke-width="1.5"/>
<ellipse cx="568.6" cy="574" rx="8.25" ry="4.8" stroke-width="1.2"/>
<path d="M562,574 V579 M565,575 V580 M568.6,575 V580 M572,575 V580 M575,574 V579" stroke="#666"/>
<path d="M559.7,566 C559.7,556 563,551.1 568.6,551.1 C574.2,551.1 578.9,556 578.9,566" stroke-width="1.6"/>
<path d="M568.6,507 V580" stroke="#777" stroke-width="0.9"/>
</g>
</g>
<!-- ============ DIMENSIONS ============ -->
<g id="dims" stroke="#10e010" stroke-width="1.1" fill="none">
<path d="M38,246.25 H84 M38,430 H130 M46,246.25 V430"/>
<path d="M46,246.5 L43,262 H49 Z M46,430 L43,414 H49 Z" fill="#00e600" stroke="none"/>
<path d="M511.4,28.1 H588.3 M541.6,95.2 H633 M511,430.5 H572 M519.7,28.1 V430.5 M549.4,95.2 V430.5"/>
<path d="M519.7,28.3 L516.7,44 H522.7 Z M519.7,430.3 L516.7,414 H522.7 Z M549.4,95.4 L546.4,111 H552.4 Z M549.4,430.3 L546.4,414 H552.4 Z" fill="#00e600" stroke="none"/>
<path d="M569.8,394.8 V465 M749.4,394.8 V465 M569.8,457.5 H749.4"/>
<path d="M570,457.5 L586,454.5 V460.5 Z M749.2,457.5 L733,454.5 V460.5 Z" fill="#00e600" stroke="none"/>
<path d="M76,693.9 V759.9 M359.6,693 V760 M76,752.8 H359.6"/>
<path d="M76.2,752.8 L92.2,749.8 V755.8 Z M359.4,752.8 L344.2,749.8 V755.8 Z" fill="#00e600" stroke="none"/>
</g>
<g class="g">
<text transform="translate(41.8,339) rotate(-90)" text-anchor="middle" font-size="25">860</text>
<text transform="translate(516,229.7) rotate(-90)" text-anchor="middle" font-size="25">1875</text>
<text transform="translate(546,263.4) rotate(-90)" text-anchor="middle" font-size="25">1561</text>
<text x="659" y="452.5" text-anchor="middle" font-size="23">835</text>
<text x="217.4" y="748.8" text-anchor="middle" font-size="24">1320</text>
</g>
</svg>
</body></html>
